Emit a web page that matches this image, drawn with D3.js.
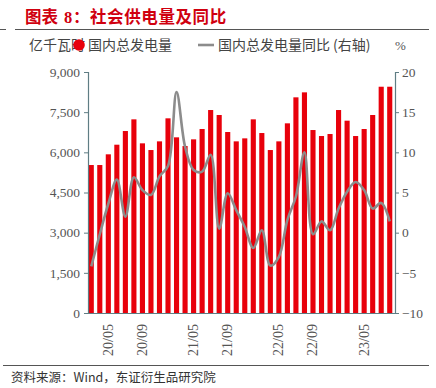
<!DOCTYPE html>
<html><head><meta charset="utf-8">
<script src="https://cdn.jsdelivr.net/npm/d3@7"></script>
<style>
html,body{margin:0;padding:0;background:#fff;}
svg{display:block;}
</style></head>
<body>
<svg id="c" width="436" height="388"></svg>
<script>
// ---- data ----
const months = ["20/03","20/04","20/05","20/06","20/07","20/08","20/09","20/10","20/11","20/12",
"21/03","21/04","21/05","21/06","21/07","21/08","21/09","21/10","21/11","21/12",
"22/03","22/04","22/05","22/06","22/07","22/08","22/09","22/10","22/11","22/12",
"23/03","23/04","23/05","23/06","23/07","23/08"];
const generation = [5526,5526,5926,6285,6796,7232,6336,6086,6410,7270,
6560,6236,6485,6871,7580,7394,6759,6410,6522,7232,
6721,6086,6410,7083,8054,8240,6833,6609,6684,7580,
7182,6609,6871,7394,8450,8450];
const yoy = [-4.2,-0.2,3.6,6.6,2.0,6.9,5.3,4.7,7.0,8.3,
17.5,10.7,7.8,7.6,9.7,0.5,4.9,2.8,0.7,-1.9,
0.3,-4.1,-3.0,1.6,4.5,10.0,-0.2,1.4,0.3,3.0,
5.1,6.3,5.3,3.0,3.7,1.4];
const tickMonths = ["20/05","20/09","21/05","21/09","22/05","22/09","23/05"];
const leftTicks = [0,1500,3000,4500,6000,7500,9000];
const rightTicks = [-10,-5,0,5,10,15,20];

const svg = d3.select("#c");
const L = 88, R = 395, T = 72, B = 313;
const axisColor = "#5f7d84";
const numFont = "'Liberation Serif','DejaVu Serif',serif";
const cjkFont = "'Noto Sans CJK SC','Noto Sans',sans-serif";

const x = d3.scaleBand().domain(months).range([L-1, R-1]).paddingInner(0.4).paddingOuter(0.2);
const yL = d3.scaleLinear().domain([0,9000]).range([B,T]);
const yR = d3.scaleLinear().domain([-10,20]).range([B,T]);

// title
const title = svg.append("text").attr("y",23).attr("fill","#d0000f")
  .attr("font-family",cjkFont).attr("font-weight","bold").attr("font-size",16.5);
title.append("tspan").attr("x",25).text("图表");
title.append("tspan").attr("x",64).attr("font-family",numFont).text("8");
title.append("tspan").attr("x",73).text("：");
title.append("tspan").attr("x",90).attr("letter-spacing",0.6).text("社会供电量及同比");
svg.append("line").attr("x1",0).attr("x2",6).attr("y1",29.5).attr("y2",29.5).attr("stroke","#555");
svg.append("line").attr("x1",15).attr("x2",429).attr("y1",29.5).attr("y2",29.5).attr("stroke","#555");

// bars
svg.append("g").selectAll("rect").data(months).join("rect")
  .attr("x",d=>x(d)).attr("width",x.bandwidth())
  .attr("y",(d,i)=>yL(generation[i])).attr("height",(d,i)=>B-yL(generation[i]))
  .attr("fill","#e8000b");

// line
const line = d3.line().x((d,i)=>x(months[i])+x.bandwidth()/2).y(d=>yR(d)).curve(d3.curveCatmullRom.alpha(0.5));
svg.append("path").attr("d",line(yoy)).attr("fill","none").attr("stroke","#8c8c8c").attr("stroke-width",2.6);

// axes
const gl = svg.append("g").attr("transform",`translate(${L},0)`)
  .call(d3.axisLeft(yL).tickValues(leftTicks).tickFormat(d3.format(",")).tickSizeOuter(0).tickSize(4).tickPadding(4));
const gr = svg.append("g").attr("transform",`translate(${R},0)`)
  .call(d3.axisRight(yR).tickValues(rightTicks).tickSizeOuter(0).tickSize(4).tickPadding(3));
[gl,gr].forEach(g=>{
  g.select(".domain").attr("stroke",axisColor).attr("stroke-width",1.2);
  g.selectAll(".tick line").attr("stroke",axisColor);
  g.selectAll(".tick text").attr("fill","#555").attr("font-family",numFont).attr("font-size",13.5);
});
svg.append("line").attr("x1",L).attr("x2",R).attr("y1",B+0.5).attr("y2",B+0.5).attr("stroke",axisColor).attr("stroke-width",1.2);

// month labels
svg.append("g").selectAll("text").data(tickMonths).join("text")
  .attr("transform",d=>`translate(${x(d)+x.bandwidth()/2+4.5},324) rotate(-90)`)
  .attr("text-anchor","end").attr("fill","#555")
  .attr("font-family",numFont).attr("font-size",14).text(d=>d);

// legend
svg.append("text").attr("x",29).attr("y",50).attr("fill","#444").attr("font-family",cjkFont).attr("font-size",14).text("亿千瓦时");
svg.append("circle").attr("cx",79).attr("cy",45).attr("r",5.8).attr("fill","#e8000b");
svg.append("text").attr("x",88).attr("y",50).attr("fill","#444").attr("font-family",cjkFont).attr("font-size",14).text("国内总发电量");
svg.append("line").attr("x1",198).attr("x2",214).attr("y1",45).attr("y2",45).attr("stroke","#8c8c8c").attr("stroke-width",2.6);
const lg2 = svg.append("text").attr("y",50).attr("fill","#444").attr("font-family",cjkFont).attr("font-size",14);
lg2.append("tspan").attr("x",218).text("国内总发电量同比");
lg2.append("tspan").attr("x",333).text("(右轴)");
svg.append("text").attr("x",395).attr("y",50).attr("fill","#555").attr("font-family",numFont).attr("font-size",13).text("%");

// source
svg.append("line").attr("x1",3).attr("x2",429).attr("y1",365.5).attr("y2",365.5).attr("stroke","#555");
svg.append("text").attr("x",11).attr("y",382).attr("fill","#333").attr("font-family",cjkFont).attr("font-size",12.5).text("资料来源：Wind，东证衍生品研究院");
</script>
</body></html>
